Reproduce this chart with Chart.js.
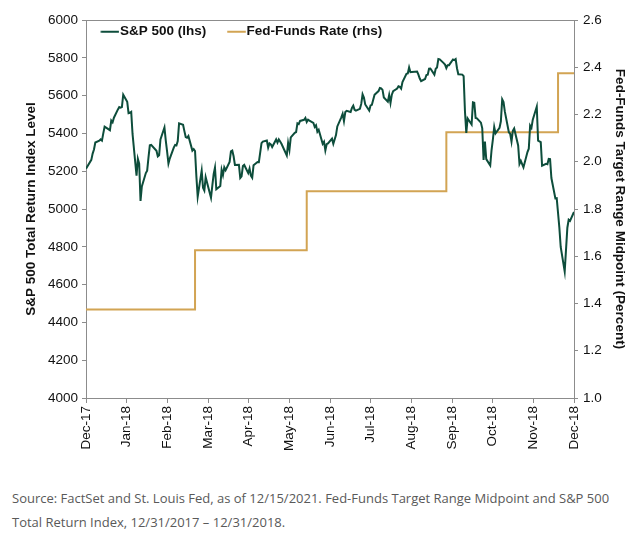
<!DOCTYPE html>
<html><head><meta charset="utf-8">
<script src="https://cdn.jsdelivr.net/npm/chart.js@4.4.1/dist/chart.umd.min.js"></script>
<style>
html,body{margin:0;padding:0;background:#fff;}
#wrap{position:relative;width:640px;height:533px;overflow:hidden;}
#c{position:absolute;left:0;top:0;}
#note{position:absolute;left:12px;top:486px;width:625px;font-family:"Open Sans",sans-serif;font-size:13px;line-height:24px;color:#595959;white-space:nowrap;}
</style></head><body>
<div id="wrap"><canvas id="c" width="640" height="460"></canvas>
<div id="note">Source: FactSet and St. Louis Fed, as of 12/15/2021. Fed-Funds Target Range Midpoint and S&amp;P 500<br>Total Return Index, 12/31/2017 – 12/31/2018.</div></div>
<script>
// ---- Data ----
const spxDates = [
'2017-12-29',
'2018-01-02','2018-01-03','2018-01-04','2018-01-05','2018-01-08','2018-01-09','2018-01-10','2018-01-11','2018-01-12','2018-01-16','2018-01-17','2018-01-18','2018-01-19','2018-01-22','2018-01-23','2018-01-24','2018-01-25','2018-01-26','2018-01-29','2018-01-30','2018-01-31',
'2018-02-01','2018-02-02','2018-02-05','2018-02-06','2018-02-07','2018-02-08','2018-02-09','2018-02-12','2018-02-13','2018-02-14','2018-02-15','2018-02-16','2018-02-20','2018-02-21','2018-02-22','2018-02-23','2018-02-26','2018-02-27','2018-02-28',
'2018-03-01','2018-03-02','2018-03-05','2018-03-06','2018-03-07','2018-03-08','2018-03-09','2018-03-12','2018-03-13','2018-03-14','2018-03-15','2018-03-16','2018-03-19','2018-03-20','2018-03-21','2018-03-22','2018-03-23','2018-03-26','2018-03-27','2018-03-28','2018-03-29',
'2018-04-02','2018-04-03','2018-04-04','2018-04-05','2018-04-06','2018-04-09','2018-04-10','2018-04-11','2018-04-12','2018-04-13','2018-04-16','2018-04-17','2018-04-18','2018-04-19','2018-04-20','2018-04-23','2018-04-24','2018-04-25','2018-04-26','2018-04-27','2018-04-30',
'2018-05-01','2018-05-02','2018-05-03','2018-05-04','2018-05-07','2018-05-08','2018-05-09','2018-05-10','2018-05-11','2018-05-14','2018-05-15','2018-05-16','2018-05-17','2018-05-18','2018-05-21','2018-05-22','2018-05-23','2018-05-24','2018-05-25','2018-05-29','2018-05-30','2018-05-31',
'2018-06-01','2018-06-04','2018-06-05','2018-06-06','2018-06-07','2018-06-08','2018-06-11','2018-06-12','2018-06-13','2018-06-14','2018-06-15','2018-06-18','2018-06-19','2018-06-20','2018-06-21','2018-06-22','2018-06-25','2018-06-26','2018-06-27','2018-06-28','2018-06-29',
'2018-07-02','2018-07-03','2018-07-05','2018-07-06','2018-07-09','2018-07-10','2018-07-11','2018-07-12','2018-07-13','2018-07-16','2018-07-17','2018-07-18','2018-07-19','2018-07-20','2018-07-23','2018-07-24','2018-07-25','2018-07-26','2018-07-27','2018-07-30','2018-07-31',
'2018-08-01','2018-08-02','2018-08-03','2018-08-06','2018-08-07','2018-08-08','2018-08-09','2018-08-10','2018-08-13','2018-08-14','2018-08-15','2018-08-16','2018-08-17','2018-08-20','2018-08-21','2018-08-22','2018-08-23','2018-08-24','2018-08-27','2018-08-28','2018-08-29','2018-08-30','2018-08-31',
'2018-09-04','2018-09-05','2018-09-06','2018-09-07','2018-09-10','2018-09-11','2018-09-12','2018-09-13','2018-09-14','2018-09-17','2018-09-18','2018-09-19','2018-09-20','2018-09-21','2018-09-24','2018-09-25','2018-09-26','2018-09-27','2018-09-28',
'2018-10-01','2018-10-02','2018-10-03','2018-10-04','2018-10-05','2018-10-08','2018-10-09','2018-10-10','2018-10-11','2018-10-12','2018-10-15','2018-10-16','2018-10-17','2018-10-18','2018-10-19','2018-10-22','2018-10-23','2018-10-24','2018-10-25','2018-10-26','2018-10-29','2018-10-30','2018-10-31',
'2018-11-01','2018-11-02','2018-11-05','2018-11-06','2018-11-07','2018-11-08','2018-11-09','2018-11-12','2018-11-13','2018-11-14','2018-11-15','2018-11-16','2018-11-19','2018-11-20','2018-11-21','2018-11-23','2018-11-26','2018-11-27','2018-11-28','2018-11-29','2018-11-30',
'2018-12-03','2018-12-04','2018-12-06','2018-12-07','2018-12-10','2018-12-11','2018-12-12','2018-12-13','2018-12-14','2018-12-17','2018-12-18','2018-12-19','2018-12-20','2018-12-21','2018-12-24','2018-12-26','2018-12-27','2018-12-28','2018-12-31'
];
const spxValues = [
5213,
5260,5293,5315,5352,5361,5368,5362,5400,5436,5417,5468,5459,5483,5527,5539,5536,5539,5605,5567,5507,5509,
5514,5397,5176,5266,5240,5043,5119,5190,5203,5273,5337,5339,5308,5278,5284,5368,5431,5362,5303,
5240,5267,5325,5339,5336,5360,5453,5446,5412,5381,5377,5386,5309,5317,5307,5174,5065,5203,5113,5098,5168,
5060,5124,5184,5219,5105,5122,5207,5179,5221,5206,5249,5305,5309,5279,5233,5234,5164,5173,5227,5233,5190,
5214,5176,5165,5231,5249,5248,5298,5348,5357,5362,5325,5347,5342,5328,5368,5351,5368,5357,5345,5283,5350,5313,
5379,5403,5407,5453,5449,5466,5472,5482,5460,5473,5468,5456,5434,5443,5409,5419,5345,5356,5310,5343,5347,
5372,5345,5391,5437,5485,5504,5465,5513,5519,5513,5535,5547,5525,5520,5530,5556,5607,5590,5553,5521,5548,
5551,5578,5604,5624,5640,5638,5630,5590,5568,5603,5561,5605,5623,5637,5649,5646,5637,5672,5715,5717,5749,5724,5725,
5727,5711,5690,5677,5688,5709,5711,5742,5743,5711,5742,5749,5794,5792,5772,5764,5745,5761,5761,
5791,5788,5793,5745,5713,5711,5703,5516,5402,5479,5447,5564,5562,5482,5480,5457,5427,5259,5357,5264,5230,5312,5369,
5434,5400,5430,5464,5580,5566,5515,5406,5398,5357,5414,5426,5336,5239,5255,5220,5301,5319,5441,5429,5473,
5542,5362,5354,5229,5239,5237,5265,5264,5164,5056,5057,4979,4900,4799,4669,4901,4943,4937,4984
];
const fedDates  = ['2017-12-29','2018-03-21','2018-06-13','2018-09-26','2018-12-19','2018-12-31'];
const fedValues = [1.375, 1.625, 1.875, 2.125, 2.375, 2.375];
const xTickLabels = ['Dec-17','Jan-18','Feb-18','Mar-18','Apr-18','May-18','Jun-18','Jul-18','Aug-18','Sep-18','Oct-18','Nov-18','Dec-18'];
const seriesNames = ['S&P 500 (lhs)', 'Fed-Funds Rate (rhs)'];

// ---- Helpers ----
const START = Date.parse('2017-12-29');
const dayOf = d => (Date.parse(d) - START) / 864e5;
const X_MAX = dayOf('2018-12-31');

const GREEN = '#0d4d3b';
const GOLD = '#d2a453';
const AXIS = '#8c8c8c';
const FONT = '"Liberation Sans", Arial, sans-serif';
const TEXT = '#111';

function swatch(color) {
  const c = document.createElement('canvas');
  c.width = 22; c.height = 4;
  const g = c.getContext('2d');
  g.strokeStyle = color; g.lineWidth = 2;
  g.beginPath(); g.moveTo(3.2, 2); g.lineTo(21.8, 2); g.stroke();
  return c;
}

const legendPlace = {
  id: 'legendPlace',
  beforeLayout(chart) {
    if (chart.legend) chart.legend.isHorizontal = () => true;
  },
  afterLayout(chart) {
    const lg = chart.legend;
    if (!lg) return;
    const h = lg.height;
    lg.left = 79.7; lg.right = chart.chartArea.right; lg.width = lg.right - lg.left;
    lg.top = 1; lg.bottom = lg.top + h;
  }
};

new Chart(document.getElementById('c'), {
  type: 'line',
  data: {
    datasets: [
      { label: seriesNames[0], data: spxDates.map((d, i) => ({ x: dayOf(d), y: spxValues[i] })),
        yAxisID: 'y', borderColor: GREEN, backgroundColor: GREEN, borderWidth: 2, pointRadius: 0, tension: 0 },
      { label: seriesNames[1], data: fedDates.map((d, i) => ({ x: dayOf(d), y: fedValues[i] })),
        yAxisID: 'y2', stepped: true, borderColor: GOLD, backgroundColor: GOLD, borderWidth: 2, pointRadius: 0 }
    ]
  },
  options: {
    responsive: false, animation: false, devicePixelRatio: 1,
    layout: { padding: { top: 20, left: 0, right: 0, bottom: 0 } },
    plugins: {
      tooltip: { enabled: false },
      legend: {
        position: 'chartArea', align: 'start',
        labels: {
          font: { family: FONT, size: 13.5, weight: 'bold' }, color: TEXT,
          usePointStyle: true, pointStyleWidth: 9.55, padding: 24,
          generateLabels: chart => chart.data.datasets.map((ds, i) => ({
            text: ds.label, fillStyle: ds.borderColor, strokeStyle: ds.borderColor, lineWidth: 0,
            pointStyle: swatch(ds.borderColor), datasetIndex: i, hidden: false, fontColor: TEXT
          }))
        }
      }
    },
    scales: {
      x: {
        type: 'linear', position: 'bottom', min: 0, max: X_MAX,
        afterBuildTicks: s => { s.ticks = xTickLabels.map((_, i) => ({ value: i * X_MAX / 12 })); },
        ticks: { autoSkip: false, maxRotation: 90, minRotation: 90, padding: 3,
          callback: (v, i) => xTickLabels[i], font: { family: FONT, size: 13.5 }, color: TEXT },
        grid: { drawOnChartArea: false, tickLength: 5, color: AXIS },
        border: { color: AXIS, width: 1 },
        afterFit: s => { s.height = 62; }
      },
      x2: {
        type: 'linear', position: 'top', min: 0, max: X_MAX,
        ticks: { display: false }, grid: { display: false },
        border: { color: AXIS, width: 1 },
        afterFit: s => { s.height = 0; }
      },
      y: {
        position: 'left', min: 4000, max: 6000,
        ticks: { stepSize: 200, callback: v => String(v), font: { family: FONT, size: 13.5 }, color: TEXT, padding: 4 },
        grid: { drawOnChartArea: false, tickLength: 4, color: AXIS },
        border: { color: AXIS, width: 1 },
        title: { display: true, text: 'S&P 500 Total Return Index Level', color: TEXT,
          font: { family: FONT, size: 13.5, weight: 'bold' }, padding: { top: 23, bottom: 0 } },
        afterFit: s => { s.width = 86; }
      },
      y2: {
        position: 'right', min: 1.0, max: 2.6,
        ticks: { stepSize: 0.2, callback: v => Number(v).toFixed(1), font: { family: FONT, size: 13.5 }, color: TEXT, padding: 5 },
        grid: { drawOnChartArea: false, tickLength: 4, color: AXIS },
        border: { color: AXIS, width: 1 },
        title: { display: true, text: 'Fed-Funds Target Range Midpoint (Percent)', color: TEXT,
          font: { family: FONT, size: 13.5, weight: 'bold' }, padding: { top: 12, bottom: 0 } },
        afterFit: s => { s.width = 66; }
      }
    }
  },
  plugins: [legendPlace]
});
</script>
</body></html>
